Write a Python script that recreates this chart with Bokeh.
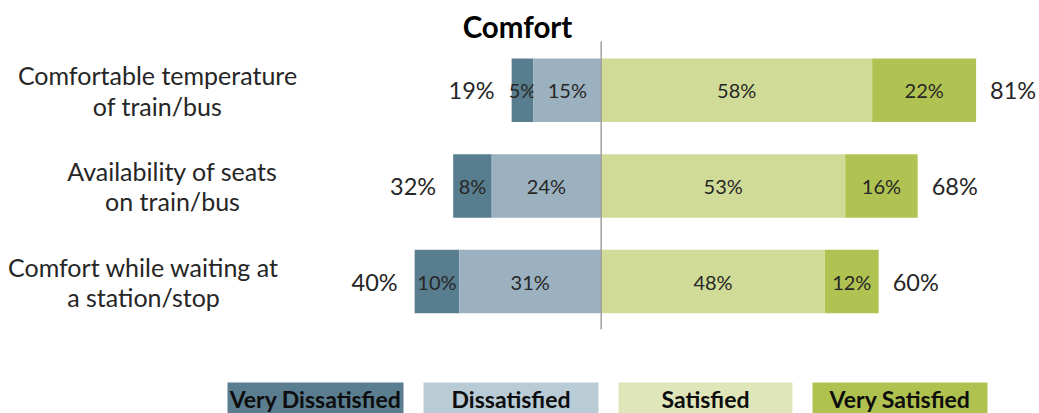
from bokeh.plotting import figure
from bokeh.models import Range1d
from bokeh.embed import file_html
from bokeh.resources import INLINE
from bokeh.core.properties import value

# ---------------- data ----------------
title = "Comfort"
categories = [
    "Comfortable temperature\nof train/bus",
    "Availability of seats\non train/bus",
    "Comfort while waiting at\na station/stop",
]
very_dissatisfied = [4.7, 8.3, 9.6]
dissatisfied = [14.6, 23.6, 30.6]
satisfied = [58.4, 52.6, 48.2]
very_satisfied = [22.4, 15.6, 11.6]
series_names = ["Very Dissatisfied", "Dissatisfied", "Satisfied", "Very Satisfied"]

# ---------------- layout / style ----------------
W, H = 1039, 413
CX, KX = 600.7, 4.64      # pixel of the 0 line, pixels per percent
CY, KY = 89.8, 95.6       # pixel of first row centre, pixels per row
FONT = "Lato"
TXT = "#262626"
bar_colors = ["#587d8f", "#9bb1c0", "#d1db98", "#b0c251"]
legend_colors = ["#5a7d8f", "#b9cbd5", "#dfe6b9", "#afc14f"]


def px_x(px):
    return (px - CX) / KX


def px_y(py):
    return (py - CY) / KY


p = figure(width=W, height=H, output_backend="svg", toolbar_location=None,
           x_range=Range1d(px_x(0), px_x(W)), y_range=Range1d(px_y(H), px_y(0)),
           min_border=0, outline_line_color=None)
p.axis.visible = False
p.grid.visible = False
p.background_fill_color = "white"
p.border_fill_color = "white"

n = len(categories)
rows = list(range(n))
bar_h = 63.5 / KY

# stacked segments
vd_left = [-(a + b) for a, b in zip(very_dissatisfied, dissatisfied)]
d_left = [-b for b in dissatisfied]
zeros = [0] * n
vs_left = list(satisfied)
vs_right = [a + b for a, b in zip(satisfied, very_satisfied)]

segments = [
    (vd_left, d_left, very_dissatisfied),
    (d_left, zeros, dissatisfied),
    (zeros, satisfied, satisfied),
    (vs_left, vs_right, very_satisfied),
]
for (lft, rgt, vals), col in zip(segments, bar_colors):
    p.hbar(y=rows, left=lft, right=rgt, height=bar_h, fill_color=col, line_color=None)
    p.text(x=[(a + b) / 2 for a, b in zip(lft, rgt)], y=rows,
           text=[f"{round(v)}%" for v in vals],
           text_font=value(FONT), text_font_size="20px", text_color=TXT,
           text_align="center", text_baseline="middle")

# totals
tot_dis = [a + b for a, b in zip(very_dissatisfied, dissatisfied)]
tot_sat = [a + b for a, b in zip(satisfied, very_satisfied)]
p.text(x=vd_left, y=rows, text=[f"{round(v)}%" for v in tot_dis], x_offset=-17,
       text_font=value(FONT), text_font_size="23.5px", text_color=TXT,
       text_align="right", text_baseline="middle")
p.text(x=vs_right, y=rows, text=[f"{round(v)}%" for v in tot_sat], x_offset=14,
       text_font=value(FONT), text_font_size="23.5px", text_color=TXT,
       text_align="left", text_baseline="middle")

# centre line
p.segment(x0=[0], x1=[0], y0=[px_y(41)], y1=[px_y(329)], line_color="#a0a0a0", line_width=1.5)

# title
p.text(x=[px_x(517)], y=[px_y(26)], text=[title], text_font=value(FONT),
       text_font_size="29.5px", text_font_style="bold", text_color="#000000",
       text_align="center", text_baseline="middle")

# category labels (two lines, centred)
label_cx = [157, 172, 143]
line1 = [c.split("\n")[0] for c in categories]
line2 = [c.split("\n")[1] for c in categories]
xs = [px_x(v) for v in label_cx]
p.text(x=xs, y=[r - 15 / KY for r in rows], text=line1, text_font=value(FONT),
       text_font_size="25px", text_color=TXT, text_align="center", text_baseline="middle")
p.text(x=xs, y=[r + 15.5 / KY for r in rows], text=line2, text_font=value(FONT),
       text_font_size="25px", text_color=TXT, text_align="center", text_baseline="middle")

# legend boxes
box_px = [(227, 403), (423, 598), (618, 792), (812, 987)]
p.quad(left=[px_x(a) for a, b in box_px], right=[px_x(b) for a, b in box_px],
       top=[px_y(382)] * 4, bottom=[px_y(420)] * 4,
       fill_color=legend_colors, line_color=None)
p.text(x=[px_x((a + b) / 2) for a, b in box_px], y=[px_y(398)] * 4, text=series_names,
       text_font=value(FONT), text_font_size="23px", text_font_style="bold",
       text_color="#0d0d0d", text_align="center", text_baseline="middle")

open("out.html", "w").write(file_html(p, INLINE))
